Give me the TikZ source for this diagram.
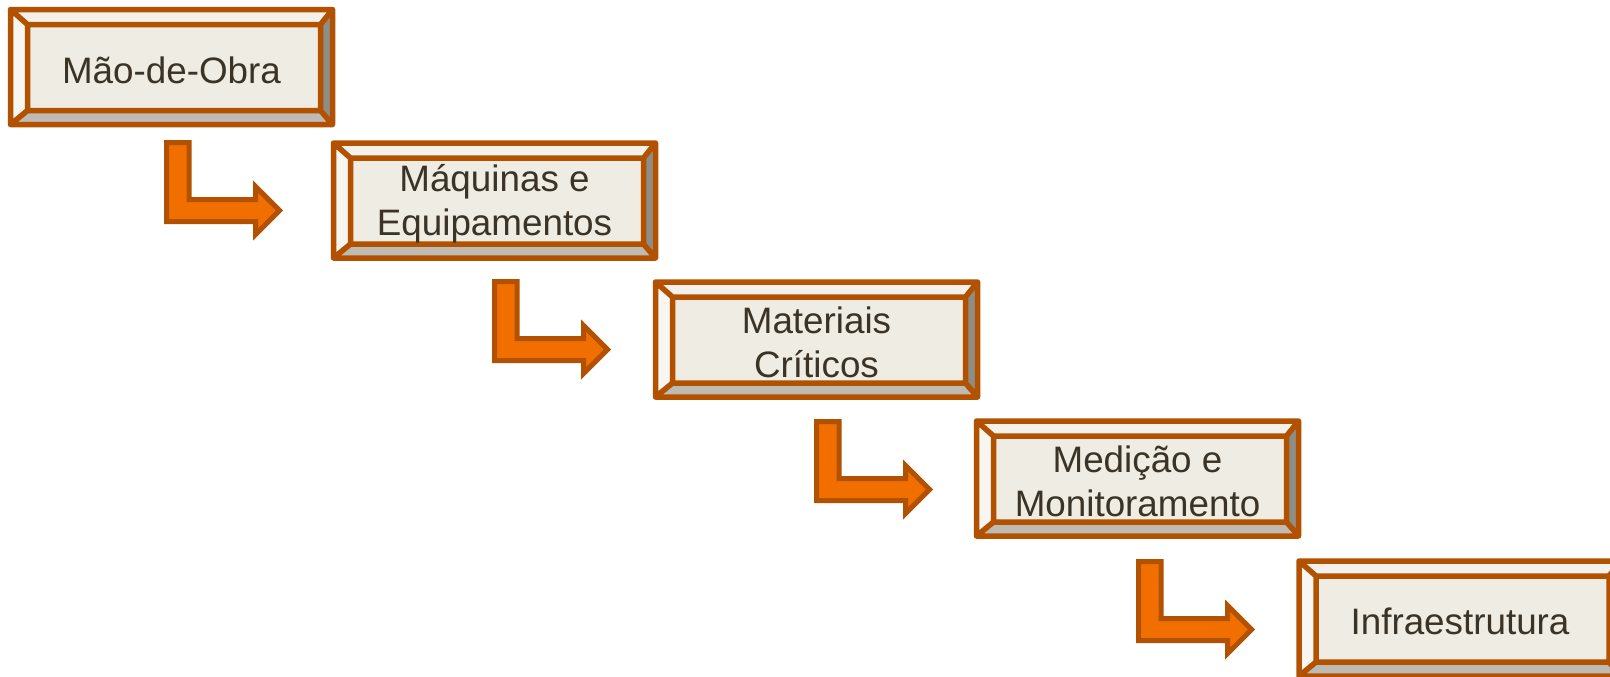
\documentclass[tikz,border=0pt]{standalone}
\usepackage{fontspec}
\setmainfont{Liberation Sans}
\definecolor{linec}{HTML}{B25200}
\definecolor{orangec}{HTML}{F06F00}
\definecolor{innerc}{HTML}{EEECE3}
\definecolor{topc}{HTML}{F3F1EB}
\definecolor{leftc}{HTML}{F7F6F1}
\definecolor{rightc}{HTML}{8E8E88}
\definecolor{botc}{HTML}{BFBBB3}
\definecolor{textc}{HTML}{3A3326}
\tikzset{
  boxline/.style={draw=linec, line width=2.75pt, line join=round},
  boxtext/.style={align=center, text=textc, inner sep=0pt, font=\fontsize{18.4}{22.2}\selectfont},
  arrowline/.style={draw=linec, fill=orangec, line width=2.5pt, line join=miter}
}
\newcommand\bevbox[4]{%
\begin{scope}[shift={(#2,#3)}]
 \fill[topc] (0,0) -- (322,0) -- (310,15) -- (17,15) -- cycle;
 \fill[leftc] (0,0) -- (17,15) -- (17,101) -- (0,115) -- cycle;
 \fill[rightc] (322,0) -- (322,115) -- (310,101) -- (310,15) -- cycle;
 \fill[botc] (0,115) -- (322,115) -- (310,101) -- (17,101) -- cycle;
 \fill[innerc] (17,15) rectangle (310,101);
 \draw[boxline] (0,0) rectangle (322,115) (17,15) rectangle (310,101)
   (0,0) -- (17,15) (322,0) -- (310,15) (322,115) -- (310,101) (0,115) -- (17,101);
 \node[boxtext] (#1) at (161,60.5) {#4};
\end{scope}}
\newcommand\elbow[3]{%
\begin{scope}[shift={(#2,#3)}]
 \draw[arrowline] (0,0) -- (22.5,0) -- (22.5,57) -- (89,57) -- (89,44) -- (113,68)
   -- (89,92) -- (89,79) -- (0,79) -- cycle;
 \coordinate (#1) at (0,0);
\end{scope}}
\begin{document}
\begin{tikzpicture}[x=0.5pt,y=-0.5pt]
\useasboundingbox (0,0) rectangle (1610,676);
\clip (0,0) rectangle (1610,676);
\bevbox{b1}{10.5}{9.5}{Mão-de-Obra}
\bevbox{b2}{333.5}{143}{Máquinas e\\Equipamentos}
\bevbox{b3}{655.5}{282}{Materiais\\Críticos}
\bevbox{b4}{976.5}{421}{Medição e\\Monitoramento}
\bevbox{b5}{1299}{561}{Infraestrutura}
\elbow{a1}{166.5}{142.5}
\elbow{a2}{494.5}{281.5}
\elbow{a3}{816.5}{421.5}
\elbow{a4}{1138.5}{561.5}
\end{tikzpicture}
\end{document}
